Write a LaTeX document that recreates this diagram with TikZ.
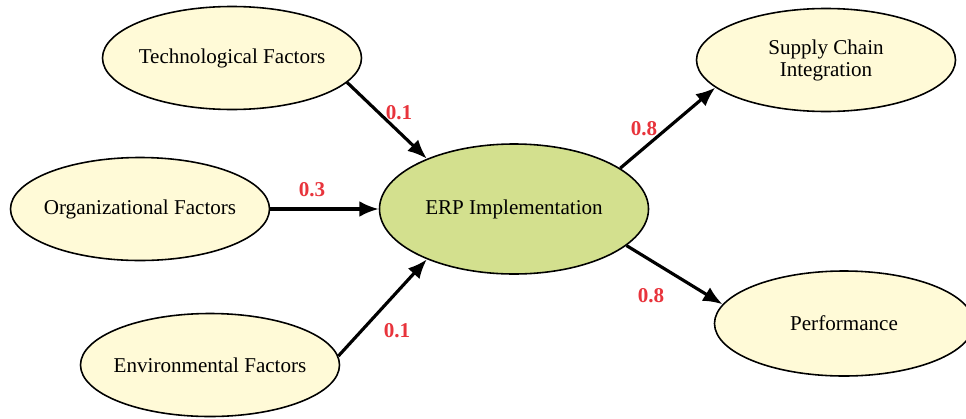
\documentclass[tikz,border=0pt]{standalone}
\usepackage{fontspec}
\setmainfont{Liberation Serif}
\usetikzlibrary{shapes.geometric, arrows.meta}

\definecolor{factorfill}{RGB}{255,250,215}
\definecolor{erpfill}{RGB}{211,224,142}
\definecolor{weightred}{RGB}{232,52,60}

\begin{document}
\begin{tikzpicture}[
  factor/.style={draw, ellipse, fill=factorfill, line width=0.9pt,
    minimum width=5.18cm, minimum height=2.06cm, inner xsep=-8pt,
    align=center, font=\fontsize{12}{12.5}\selectfont},
  weight/.style={text=weightred, font=\fontsize{12}{13}\selectfont\bfseries},
  link/.style={->, >={Latex[length=11pt,width=9pt]}, line width=1.8pt}
]

\useasboundingbox (0,0) rectangle (19.32,8.36);


% plot the factors
\node[factor] (tech) at (4.64, 7.20) {Technological Factors};
\node[factor] (org) at (2.80, 4.18) {Organizational Factors};
\node[factor] (env) at (4.20, 1.06) {Environmental Factors};



% plot ERP in the middle
\node[factor, fill=erpfill, minimum width=5.38cm, minimum height=2.6cm] (erp) at (10.28, 4.18) {ERP Implementation};

\draw[link] (tech.-12) -- (erp.150);
\draw[link] (org) -- (erp);
\draw[link] (env.4) -- (erp.210);


%plot outcomes
\node[factor] (sci) at (16.52, 7.16) {Supply Chain\\Integration};
\node[factor, minimum height=2.1cm] (perf) at (16.88, 1.89) {Performance};

\draw[link] (erp.21) -- (sci.194);
\draw[link] (erp.-18) -- (perf.171);


% weights
\node[weight] (w_tech) at (7.98, 6.10) {0.1};
\node[weight] (w_org) at (6.24, 4.56) {0.3};
\node[weight] (w_env) at (7.94, 1.74) {0.1};
\node[weight] (w_sci) at (12.88, 5.78) {0.8};
\node[weight] (w_perf) at (13.02, 2.44) {0.8};


\end{tikzpicture}
\end{document}
